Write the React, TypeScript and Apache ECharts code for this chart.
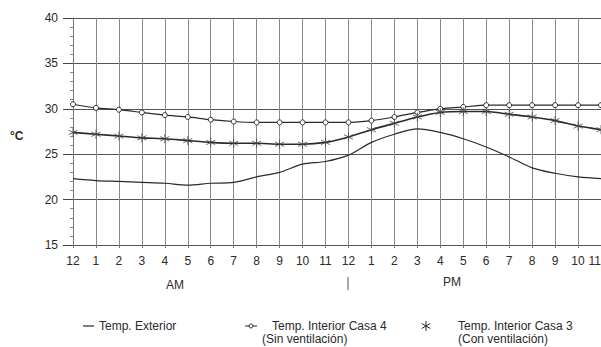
import React, { useEffect, useRef } from "react";
import * as echarts from "echarts";

const hourLabels = ["12", "1", "2", "3", "4", "5", "6", "7", "8", "9", "10", "11", "12", "1", "2", "3", "4", "5", "6", "7", "8", "9", "10", "11"];
const tempExterior = [22.3, 22.1, 22.0, 21.9, 21.8, 21.6, 21.8, 21.9, 22.5, 23.0, 23.9, 24.2, 24.9, 26.3, 27.2, 27.8, 27.4, 26.7, 25.8, 24.7, 23.5, 22.9, 22.5, 22.3];
const tempCasa4 = [30.5, 30.1, 29.9, 29.6, 29.3, 29.1, 28.8, 28.6, 28.5, 28.5, 28.5, 28.5, 28.5, 28.7, 29.1, 29.6, 30.0, 30.2, 30.4, 30.4, 30.4, 30.4, 30.4, 30.4];
const tempCasa3 = [27.4, 27.2, 27.0, 26.8, 26.7, 26.5, 26.3, 26.2, 26.2, 26.1, 26.1, 26.3, 26.9, 27.7, 28.4, 29.1, 29.6, 29.7, 29.7, 29.4, 29.1, 28.7, 28.1, 27.7];
const legendNames = ["Temp. Exterior", "Temp. Interior Casa 4", "Temp. Interior Casa 3"];
const legendSub = ["(Sin ventilación)", "(Con ventilación)"];

const FONT = "'Liberation Sans', Arial, sans-serif";
const INK = "#2a2a2a";
const ASTERISK = "path://M5,0L5,10M0.67,2.5L9.33,7.5M0.67,7.5L9.33,2.5";

const toPairs = (arr: number[]) => arr.map((v, i) => [i, v]);

export default function App() {
  const ref = useRef<HTMLDivElement>(null);
  useEffect(() => {
    if (!ref.current) return;
    const chart = echarts.init(ref.current, null, { renderer: "svg" });
    const textStyle = { fill: INK, font: `12px ${FONT}` };
    chart.setOption({
      animation: false,
      backgroundColor: "#fff",
      grid: { left: 73, right: 0, top: 18, bottom: 102, containLabel: false, outerBoundsMode: "none" },
      xAxis: {
        type: "value",
        min: 0,
        max: 23,
        interval: 1,
        axisLine: { show: false },
        axisTick: { show: true, length: 3, lineStyle: { color: "#777" } },
        splitLine: { show: true, lineStyle: { color: "#8a8a8a", width: 1 } },
        axisLabel: {
          color: INK,
          fontFamily: FONT,
          fontSize: 12,
          margin: 10,
          showMaxLabel: true,
          showMinLabel: true,
          alignMaxLabel: "right",
          formatter: (v: number) => hourLabels[Math.round(v)] ?? "",
        },
      },
      yAxis: {
        type: "value",
        min: 15,
        max: 40,
        interval: 5,
        axisLine: { show: true, lineStyle: { color: "#777", width: 1 } },
        axisTick: { show: true, length: 10, lineStyle: { color: "#444" } },
        minorTick: { show: true, splitNumber: 5, length: 3, lineStyle: { color: "#888" } },
        splitLine: { show: true, lineStyle: { color: "#555", width: 1 } },
        axisLabel: { color: INK, fontFamily: FONT, fontSize: 12, margin: 15 },
      },
      series: [
        {
          name: legendNames[0],
          type: "line",
          data: toPairs(tempExterior),
          smooth: 0.3,
          showSymbol: false,
          lineStyle: { color: INK, width: 1.2 },
        },
        {
          name: legendNames[1],
          type: "line",
          data: toPairs(tempCasa4),
          smooth: 0.2,
          symbol: "circle",
          symbolSize: 5,
          lineStyle: { color: INK, width: 1.2 },
          itemStyle: { color: "#fff", borderColor: INK, borderWidth: 1 },
        },
        {
          name: legendNames[2],
          type: "line",
          data: toPairs(tempCasa3),
          smooth: 0.2,
          symbol: ASTERISK,
          symbolSize: 9,
          lineStyle: { color: INK, width: 1.6 },
          itemStyle: { color: "transparent", borderColor: "#444", borderWidth: 0.8 },
        },
      ],
      graphic: [
        { type: "text", left: 10, top: 130, style: { ...textStyle, text: "°C", font: `bold 12px ${FONT}` } },
        { type: "text", x: 175, y: 285, style: { ...textStyle, text: "AM", textAlign: "center", textVerticalAlign: "middle" } },
        { type: "text", x: 452, y: 282, style: { ...textStyle, text: "PM", textAlign: "center", textVerticalAlign: "middle" } },
        { type: "line", shape: { x1: 348, y1: 277, x2: 348, y2: 290 }, style: { stroke: "#555", lineWidth: 1 } },
        // legend 1
        { type: "line", shape: { x1: 83, y1: 326, x2: 94, y2: 326 }, style: { stroke: INK, lineWidth: 1.2 } },
        { type: "text", x: 99, y: 326, style: { ...textStyle, text: legendNames[0], textVerticalAlign: "middle" } },
        // legend 2
        { type: "line", shape: { x1: 245, y1: 326, x2: 257, y2: 326 }, style: { stroke: INK, lineWidth: 1 } },
        { type: "circle", shape: { cx: 251, cy: 326, r: 2 }, style: { fill: "#fff", stroke: INK, lineWidth: 1 } },
        { type: "text", x: 272, y: 326, style: { ...textStyle, text: legendNames[1], textVerticalAlign: "middle" } },
        { type: "text", x: 262, y: 339, style: { ...textStyle, text: legendSub[0], textVerticalAlign: "middle" } },
        // legend 3
        { type: "line", shape: { x1: 426, y1: 321, x2: 426, y2: 331 }, style: { stroke: INK, lineWidth: 1 } },
        { type: "line", shape: { x1: 421.7, y1: 323.5, x2: 430.3, y2: 328.5 }, style: { stroke: INK, lineWidth: 1 } },
        { type: "line", shape: { x1: 421.7, y1: 328.5, x2: 430.3, y2: 323.5 }, style: { stroke: INK, lineWidth: 1 } },
        { type: "text", x: 458, y: 326, style: { ...textStyle, text: legendNames[2], textVerticalAlign: "middle" } },
        { type: "text", x: 458, y: 339, style: { ...textStyle, text: legendSub[1], textVerticalAlign: "middle" } },
      ],
    });
    return () => chart.dispose();
  }, []);
  return <div ref={ref} style={{ width: 601, height: 347, position: "absolute", left: 0, top: 0 }} />;
}
